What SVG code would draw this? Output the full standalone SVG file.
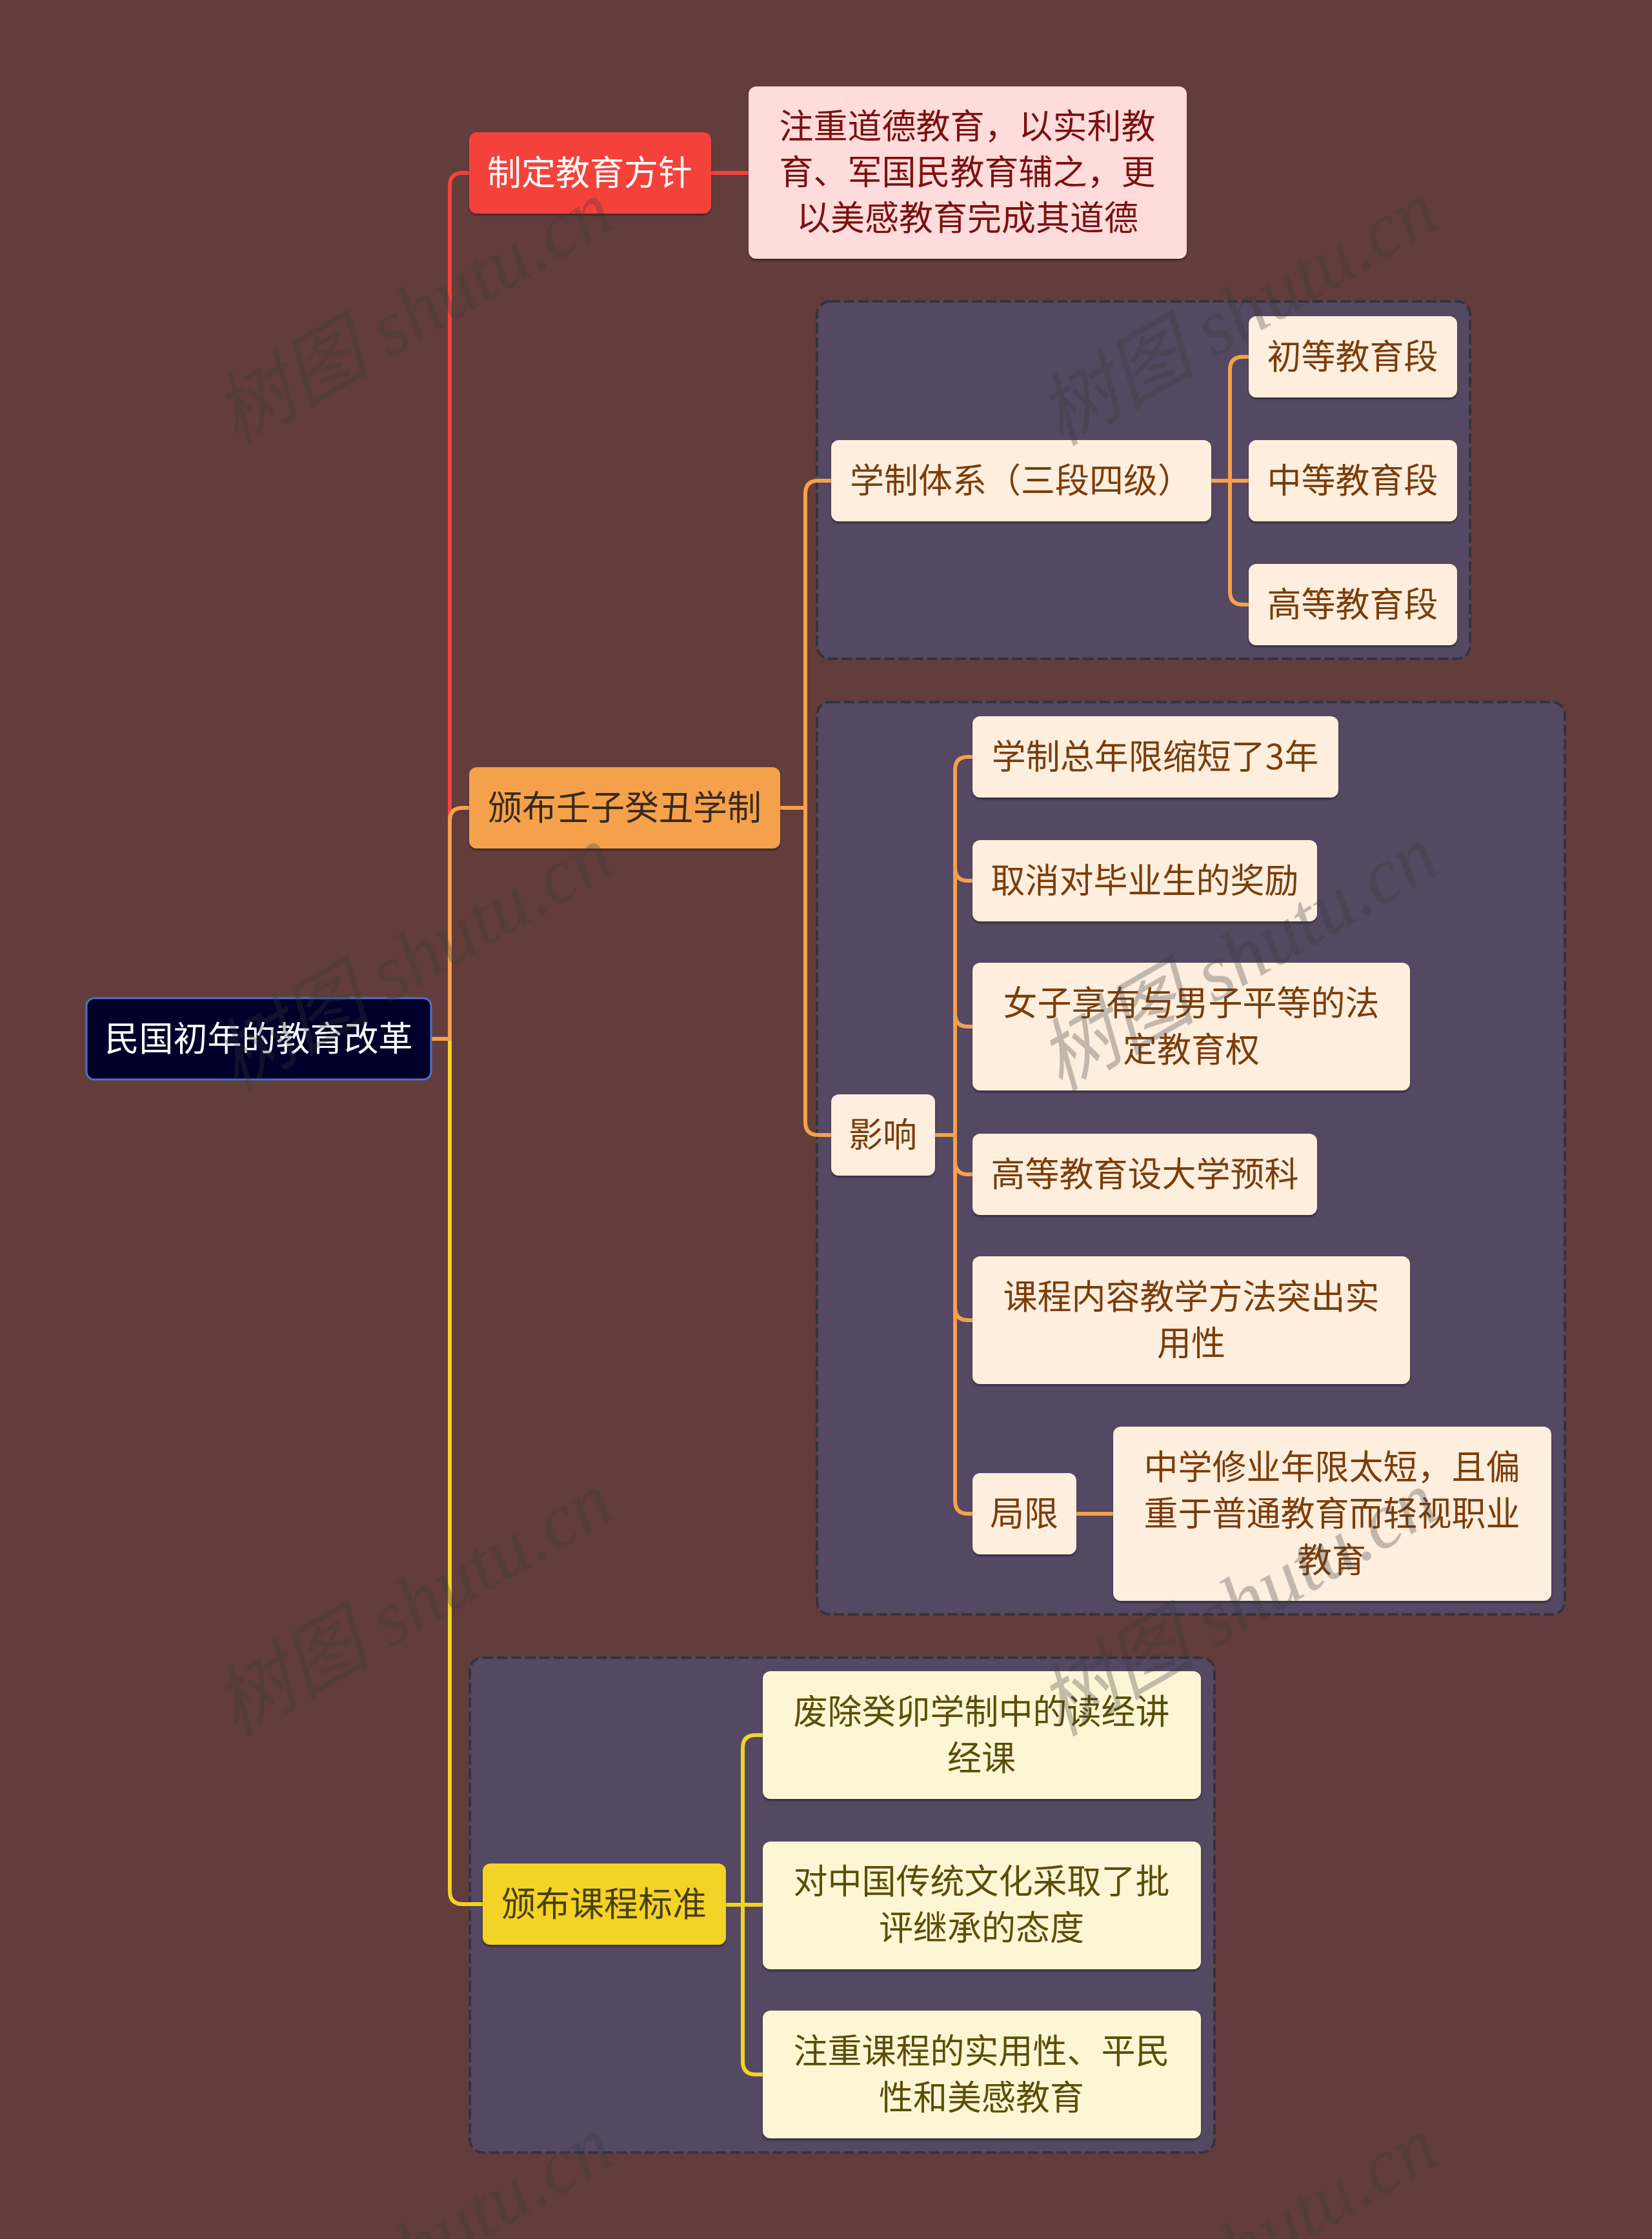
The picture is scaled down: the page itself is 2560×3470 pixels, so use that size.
<svg xmlns="http://www.w3.org/2000/svg" width="2560" height="3470" viewBox="0 0 2560 3470">
<defs>
<filter id="sh" x="-5%" y="-5%" width="110%" height="115%">
<feDropShadow dx="0" dy="3" stdDeviation="1.5" flood-color="#000" flood-opacity="0.35"/>
</filter>
<style>
text{font-family:"Noto Sans CJK SC","Noto Sans",sans-serif;font-size:53px;text-anchor:middle}
.grp{fill:#544862;stroke:#35323d;stroke-width:4;stroke-dasharray:16 6}
.cream rect{fill:#fdeede;filter:url(#sh)}
.cream text{fill:#7b3d0b}
.ylw rect{fill:#fdf6d4;filter:url(#sh)}
.ylw text{fill:#5c4e08}
.ln{fill:none;stroke-width:6;stroke-linecap:round;stroke-linejoin:round}
.wm{font-family:"Liberation Serif","Noto Sans CJK SC",serif;font-style:italic;font-size:122px;fill:#3a3a3a;opacity:0.3;text-anchor:start}
</style>
</defs>
<rect width="2560" height="3470" fill="#633d3c"/>

<g id="groups">
<rect id="group-xuezhi" class="grp" x="1266" y="467" width="1012" height="554" rx="20"/>
<rect id="group-yingxiang" class="grp" x="1266" y="1088" width="1159" height="1414" rx="20"/>
<rect id="group-kecheng" class="grp" x="728" y="2569" width="1154" height="767" rx="20"/>
</g>

<g id="connectors">
<path class="ln" stroke="#f4433a" d="M668,1610 H697 V288 Q697,268 717,268 H728"/>
<path class="ln" stroke="#f4433a" d="M1102,268 H1160"/>
<path class="ln" stroke="#f2d325" d="M668,1610 H697 V2931 Q697,2951 717,2951 H748"/>
<path class="ln" stroke="#f5a14c" d="M668,1610 H697 V1272 Q697,1252 717,1252 H728"/>
<path class="ln" stroke="#f5a14c" d="M1209,1252 H1248"/>
<path class="ln" stroke="#f5a14c" d="M1288,745 H1268 Q1248,745 1248,765 V1739 Q1248,1759 1268,1759 H1288"/>
<path class="ln" stroke="#f5a14c" d="M1877,745 H1935"/>
<path class="ln" stroke="#f5a14c" d="M1935,553 H1926 Q1906,553 1906,573 V917 Q1906,937 1926,937 H1935"/>
<path class="ln" stroke="#f5a14c" d="M1449,1759 H1480"/>
<path class="ln" stroke="#f5a14c" d="M1507,1173 H1500 Q1480,1173 1480,1193 V2326 Q1480,2346 1500,2346 H1507"/>
<path class="ln" stroke="#f5a14c" d="M1480,1345 Q1480,1365 1500,1365 H1507"/>
<path class="ln" stroke="#f5a14c" d="M1480,1571 Q1480,1591 1500,1591 H1507"/>
<path class="ln" stroke="#f5a14c" d="M1480,1800 Q1480,1820 1500,1820 H1507"/>
<path class="ln" stroke="#f5a14c" d="M1480,2026 Q1480,2046 1500,2046 H1507"/>
<path class="ln" stroke="#f5a14c" d="M1668,2346 H1725"/>
<path class="ln" stroke="#f2d325" d="M1125,2952 H1182"/>
<path class="ln" stroke="#f2d325" d="M1182,2689 H1171 Q1151,2689 1151,2709 V3195 Q1151,3215 1171,3215 H1182"/>
</g>

<g id="root">
<rect x="134" y="1547" width="534" height="126" rx="12" fill="#00002a" stroke="#4a73c9" stroke-width="3"/>
<text x="401" y="1629" fill="#ffffff">民国初年的教育改革</text>
</g>

<g id="n-fangzhen">
<rect x="727" y="205" width="375" height="126" rx="12" fill="#f4433a" filter="url(#sh)"/>
<text x="914" y="287" fill="#ffffff">制定教育方针</text>
</g>
<g id="n-fangzhen-leaf">
<rect x="1160" y="134" width="679" height="267" rx="12" fill="#fddcdb" filter="url(#sh)"/>
<text fill="#7d1010"><tspan x="1499" y="215">注重道德教育，以实利教</tspan><tspan x="1499" y="286">育、军国民教育辅之，更</tspan><tspan x="1499" y="357">以美感教育完成其道德</tspan></text>
</g>

<g id="n-xuezhi">
<rect x="727" y="1189" width="482" height="126" rx="12" fill="#f5a14c" filter="url(#sh)"/>
<text x="968" y="1271" fill="#3a2a1c">颁布壬子癸丑学制</text>
</g>

<g id="n-tixi" class="cream">
<rect x="1288" y="682" width="589" height="126" rx="12"/>
<text x="1582" y="764">学制体系（三段四级）</text>
</g>
<g id="n-chudeng" class="cream">
<rect x="1935" y="490" width="323" height="126" rx="12"/>
<text x="2096" y="572">初等教育段</text>
</g>
<g id="n-zhongdeng" class="cream">
<rect x="1935" y="682" width="323" height="126" rx="12"/>
<text x="2096" y="764">中等教育段</text>
</g>
<g id="n-gaodeng" class="cream">
<rect x="1935" y="874" width="323" height="126" rx="12"/>
<text x="2096" y="956">高等教育段</text>
</g>

<g id="n-yingxiang" class="cream">
<rect x="1288" y="1696" width="161" height="126" rx="12"/>
<text x="1368" y="1778">影响</text>
</g>
<g id="n-suoduan" class="cream">
<rect x="1507" y="1110" width="567" height="126" rx="12"/>
<text x="1790" y="1192">学制总年限缩短了3年</text>
</g>
<g id="n-quxiao" class="cream">
<rect x="1507" y="1302" width="534" height="126" rx="12"/>
<text x="1774" y="1384">取消对毕业生的奖励</text>
</g>
<g id="n-nvzi" class="cream">
<rect x="1507" y="1492" width="678" height="198" rx="12"/>
<text><tspan x="1846" y="1574">女子享有与男子平等的法</tspan><tspan x="1846" y="1646">定教育权</tspan></text>
</g>
<g id="n-yuke" class="cream">
<rect x="1507" y="1757" width="534" height="126" rx="12"/>
<text x="1774" y="1839">高等教育设大学预科</text>
</g>
<g id="n-shiyong" class="cream">
<rect x="1507" y="1947" width="678" height="198" rx="12"/>
<text><tspan x="1846" y="2029">课程内容教学方法突出实</tspan><tspan x="1846" y="2101">用性</tspan></text>
</g>
<g id="n-juxian" class="cream">
<rect x="1507" y="2283" width="161" height="126" rx="12"/>
<text x="1587" y="2365">局限</text>
</g>
<g id="n-juxian-leaf" class="cream">
<rect x="1725" y="2211" width="679" height="270" rx="12"/>
<text><tspan x="2064" y="2293">中学修业年限太短，且偏</tspan><tspan x="2064" y="2365">重于普通教育而轻视职业</tspan><tspan x="2064" y="2437">教育</tspan></text>
</g>

<g id="n-kecheng">
<rect x="748" y="2888" width="377" height="126" rx="12" fill="#f2d325" filter="url(#sh)"/>
<text x="936" y="2970" fill="#4a3f12">颁布课程标准</text>
</g>
<g id="n-feichu" class="ylw">
<rect x="1182" y="2590" width="679" height="198" rx="12"/>
<text><tspan x="1521" y="2672">废除癸卯学制中的读经讲</tspan><tspan x="1521" y="2744">经课</tspan></text>
</g>
<g id="n-pingjia" class="ylw">
<rect x="1182" y="2854" width="679" height="198" rx="12"/>
<text><tspan x="1521" y="2935">对中国传统文化采取了批</tspan><tspan x="1521" y="3007">评继承的态度</tspan></text>
</g>
<g id="n-pingmin" class="ylw">
<rect x="1182" y="3116" width="679" height="198" rx="12"/>
<text><tspan x="1521" y="3198">注重课程的实用性、平民</tspan><tspan x="1521" y="3270">性和美感教育</tspan></text>
</g>

<g id="watermarks">
<text class="wm" x="365" y="692" transform="rotate(-30 365 692)">树图 shutu.cn</text>
<text class="wm" x="1643" y="692" transform="rotate(-30 1643 692)">树图 shutu.cn</text>
<text class="wm" x="365" y="1692" transform="rotate(-30 365 1692)">树图 shutu.cn</text>
<text class="wm" x="1643" y="1692" transform="rotate(-30 1643 1692)">树图 shutu.cn</text>
<text class="wm" x="365" y="2692" transform="rotate(-30 365 2692)">树图 shutu.cn</text>
<text class="wm" x="1643" y="2692" transform="rotate(-30 1643 2692)">树图 shutu.cn</text>
<text class="wm" x="365" y="3692" transform="rotate(-30 365 3692)">树图 shutu.cn</text>
<text class="wm" x="1643" y="3692" transform="rotate(-30 1643 3692)">树图 shutu.cn</text>
</g>
</svg>
